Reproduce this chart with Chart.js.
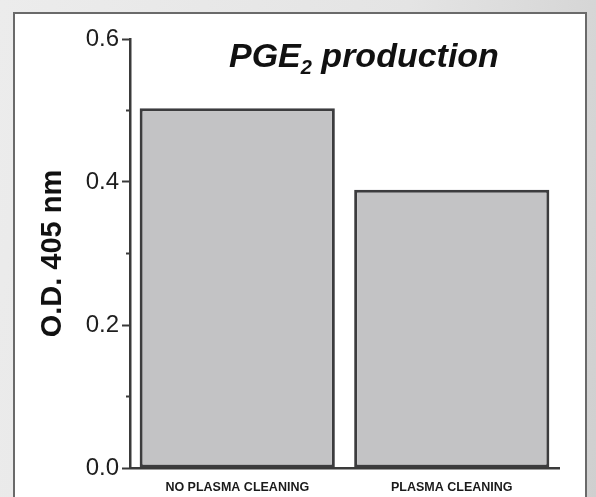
<!DOCTYPE html>
<html>
<head>
<meta charset="utf-8">
<script src="https://cdn.jsdelivr.net/npm/chart.js@4/dist/chart.umd.min.js"></script>
<style>
  html, body { margin: 0; padding: 0; width: 596px; height: 497px; overflow: hidden; }
  body { background: linear-gradient(100deg, #ececec 0%, #e4e4e4 60%, #cfcfcf 100%); position: relative; }
  #panel { position: absolute; left: 13px; top: 12px; width: 574px; height: 500px; background: #fff; border: 2px solid #6a6a6a; box-sizing: border-box; }
  #wrap { position: absolute; left: 0; top: 0; width: 596px; height: 497px; }
</style>
</head>
<body>
<div id="panel"></div>
<div id="wrap"><canvas id="c" width="596" height="497"></canvas></div>
<script>
const categories = ['NO PLASMA CLEANING', 'PLASMA CLEANING'];
const odValues = [0.503, 0.389];
const yTicks = [0.0, 0.2, 0.4, 0.6];
const yMinorTicks = [0.1, 0.3, 0.5];
const chartTitle = ['PGE', '2', ' production'];
const yAxisTitle = 'O.D. 405 nm';

const axisColor = '#3a3a3a';

const titlePlugin = {
  id: 'subTitle',
  afterDraw(chart) {
    const ctx = chart.ctx;
    ctx.save();
    ctx.fillStyle = '#111';
    ctx.textBaseline = 'alphabetic';
    let x = 229, y = 67;
    ctx.font = 'italic bold 34px "Liberation Sans", Arial, sans-serif';
    ctx.fillText(chartTitle[0], x, y);
    x += ctx.measureText(chartTitle[0]).width;
    ctx.font = 'italic bold 20px "Liberation Sans", Arial, sans-serif';
    ctx.fillText(chartTitle[1], x, y + 7);
    x += ctx.measureText(chartTitle[1]).width;
    ctx.font = 'italic bold 34px "Liberation Sans", Arial, sans-serif';
    ctx.fillText(chartTitle[2], x, y);
    ctx.restore();
  }
};

const minorTickPlugin = {
  id: 'minorTicks',
  afterDraw(chart) {
    const s = chart.scales.y;
    const ctx = chart.ctx;
    ctx.save();
    ctx.strokeStyle = axisColor;
    ctx.lineWidth = 2;
    yMinorTicks.forEach(v => {
      const py = s.getPixelForValue(v);
      ctx.beginPath();
      ctx.moveTo(s.right - 4, py);
      ctx.lineTo(s.right, py);
      ctx.stroke();
    });
    ctx.restore();
  }
};

new Chart(document.getElementById('c'), {
  type: 'bar',
  data: {
    labels: categories,
    datasets: [{
      data: odValues,
      backgroundColor: '#c3c3c5',
      borderColor: '#3c3c3e',
      borderWidth: 3,
      borderSkipped: false,
      barPercentage: 0.91,
      categoryPercentage: 1.0
    }]
  },
  options: {
    responsive: false,
    animation: false,
    devicePixelRatio: 1,
    layout: { padding: { left: 36, top: 39, right: 37, bottom: 0 } },
    plugins: { legend: { display: false }, tooltip: { enabled: false }, title: { display: false } },
    scales: {
      x: {
        grid: { display: true, drawOnChartArea: false, drawTicks: false },
        border: { color: axisColor, width: 2.5 },
        ticks: {
          color: '#1a1a1a',
          padding: 12,
          maxRotation: 0,
          font: { family: '"Liberation Sans", Arial, sans-serif', weight: 'bold', size: 12.5 }
        },
        afterFit(scale) { scale.height = 29; }
      },
      y: {
        min: 0,
        max: 0.6,
        afterBuildTicks(scale) { scale.ticks = yTicks.map(v => ({ value: v })); },
        grid: { display: true, drawOnChartArea: false, drawTicks: true, tickLength: 8, tickColor: axisColor, tickWidth: 2 },
        border: { color: axisColor, width: 2.5 },
        ticks: {
          color: '#1e1e1e',
          padding: 3,
          font: { family: '"Liberation Sans", Arial, sans-serif', size: 24 },
          callback: v => Number(v).toFixed(1)
        },
        title: {
          display: true,
          text: yAxisTitle,
          color: '#111',
          padding: 0,
          font: { family: '"Liberation Sans", Arial, sans-serif', weight: 'bold', size: 29 }
        },
        afterFit(scale) { scale.width = 94; }
      }
    }
  },
  plugins: [titlePlugin, minorTickPlugin]
});
</script>
</body>
</html>
